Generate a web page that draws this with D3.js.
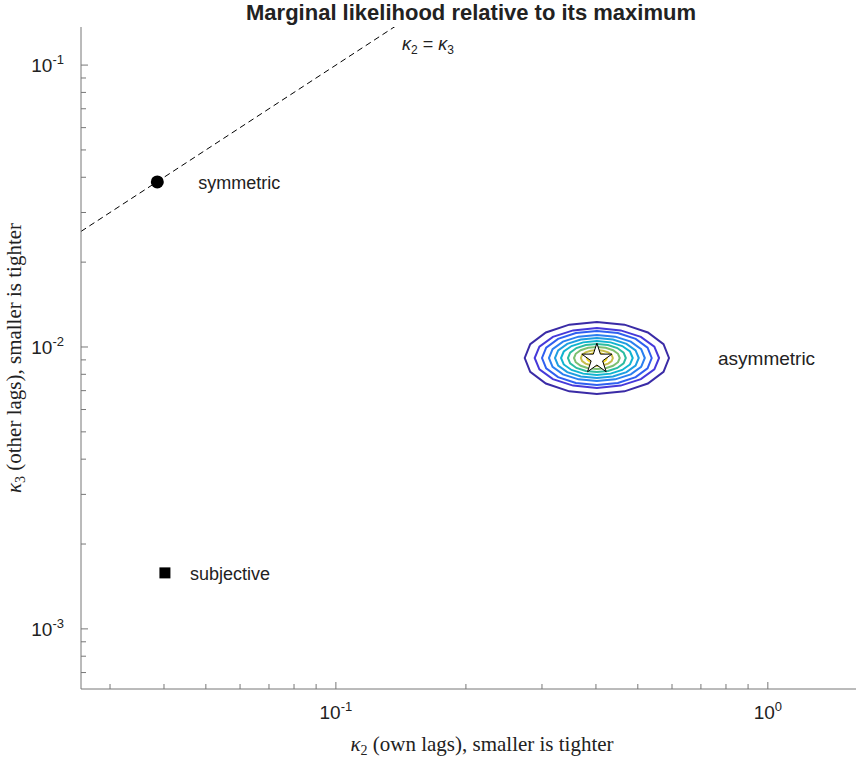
<!DOCTYPE html>
<html><head><meta charset="utf-8">
<script src="https://cdn.jsdelivr.net/npm/d3@7"></script>
<style>body{margin:0;background:#fff}</style>
</head><body>
<svg id="chart" width="860" height="758"></svg>
<script>
// data
const xDomain = [0.0257, 1.6];
const yDomain = [0.000612, 0.1365];
const xMajor = [0.1, 1];
const yMajor = [0.001, 0.01, 0.1];
const points = [
  { name: "symmetric", k2: 0.0386, k3: 0.0385, shape: "circle" },
  { name: "subjective", k2: 0.0402, k3: 0.00158, shape: "square" }
];
const peak = { name: "asymmetric", k2: 0.402, k3: 0.00914 };
// contour half-widths in decades (outer to inner)
const levelRx = [0.167, 0.144, 0.127, 0.111, 0.097, 0.083, 0.067, 0.053, 0.037, 0.023];
const levelRy = [0.128, 0.106, 0.096, 0.082, 0.071, 0.060, 0.050, 0.039, 0.028, 0.018];
const levelColors = ["#3a2ba6", "#4639d9", "#2f5ff0", "#2a7ff0", "#1e9ee0", "#10b4d0", "#2cbca0", "#7cbf70", "#c7bd4a", "#f5d925"];

const svg = d3.select("#chart");
const x = d3.scaleLog().domain(xDomain).range([81, 856]);
const y = d3.scaleLog().domain(yDomain).range([689, 27]);

svg.append("defs").append("clipPath").attr("id", "clip")
  .append("rect").attr("x", 81).attr("y", 27).attr("width", 775).attr("height", 662);
const plot = svg.append("g").attr("clip-path", "url(#clip)");

// identity line
plot.append("line")
  .attr("x1", x(0.0257)).attr("y1", y(0.0257))
  .attr("x2", x(0.16)).attr("y2", y(0.16))
  .attr("stroke", "#000").attr("stroke-dasharray", "6,4").attr("stroke-width", 1);

// contours
const n = 16;
const line = d3.line().curve(d3.curveLinearClosed);
levelRx.forEach((rx, i) => {
  const ry = levelRy[i];
  const pts = d3.range(n).map(j => {
    const a = 2 * Math.PI * j / n;
    return [x(peak.k2 * Math.pow(10, rx * Math.cos(a))), y(peak.k3 * Math.pow(10, ry * Math.sin(a)))];
  });
  plot.append("path").attr("d", line(pts)).attr("fill", "none")
    .attr("stroke", levelColors[i]).attr("stroke-width", 2);
});

// star
plot.append("path")
  .attr("d", d3.symbol().type(d3.symbolStar).size(280)())
  .attr("transform", `translate(${x(peak.k2)},${y(peak.k3) + 1})`)
  .attr("fill", "#fff").attr("stroke", "#000").attr("stroke-width", 1);

points.forEach(p => {
  const px = x(p.k2), py = y(p.k3);
  if (p.shape === "circle") plot.append("circle").attr("cx", px).attr("cy", py).attr("r", 6.5);
  else plot.append("rect").attr("x", px - 5.5).attr("y", py - 5.5).attr("width", 11).attr("height", 11);
});

const sans = "'Liberation Sans', Arial, sans-serif";
const serif = "'Liberation Serif', 'Times New Roman', serif";
svg.append("text").attr("x", x(0.0386) + 41).attr("y", y(0.0385) + 7).text("symmetric")
  .attr("font-family", sans).attr("font-size", 18).attr("fill", "#222");
svg.append("text").attr("x", x(0.0402) + 25).attr("y", y(0.00158) + 7).text("subjective")
  .attr("font-family", sans).attr("font-size", 18).attr("fill", "#222");
svg.append("text").attr("x", 718).attr("y", y(peak.k3) + 7).text("asymmetric")
  .attr("font-family", sans).attr("font-size", 19).attr("fill", "#222");
const eq = svg.append("text").attr("x", 402).attr("y", 50)
  .attr("font-family", sans).attr("font-size", 18).attr("fill", "#222");
eq.append("tspan").text("κ").attr("font-style", "italic");
eq.append("tspan").text("2").attr("font-size", 12).attr("dy", 4);
eq.append("tspan").text(" = ").attr("dy", -4);
eq.append("tspan").text("κ").attr("font-style", "italic");
eq.append("tspan").text("3").attr("font-size", 12).attr("dy", 4);

// axes
const gridCol = "#777";
svg.append("line").attr("x1", 81).attr("x2", 856).attr("y1", 689).attr("y2", 689).attr("stroke", gridCol);
svg.append("line").attr("x1", 81).attr("x2", 81).attr("y1", 27).attr("y2", 689).attr("stroke", gridCol);

const xMinor = x.ticks().filter(v => v >= xDomain[0] && v <= xDomain[1]);
xMinor.forEach(v => {
  const major = xMajor.some(m => Math.abs(m - v) / m < 1e-6);
  svg.append("line").attr("x1", x(v)).attr("x2", x(v)).attr("y1", 689).attr("y2", 689 - (major ? 7 : 5)).attr("stroke", gridCol);
});
const yMinor = y.ticks().filter(v => v >= yDomain[0] && v <= yDomain[1]);
yMinor.forEach(v => {
  const major = yMajor.some(m => Math.abs(m - v) / m < 1e-6);
  svg.append("line").attr("y1", y(v)).attr("y2", y(v)).attr("x1", 81).attr("x2", 81 + (major ? 7 : 5)).attr("stroke", gridCol);
});

function powLabel(t, v) {
  const e = Math.round(Math.log10(v));
  t.append("tspan").text("10");
  t.append("tspan").text(e).attr("font-size", 13).attr("dy", -8);
}
xMajor.forEach(v => {
  const t = svg.append("text").attr("x", x(v)).attr("y", 719).attr("text-anchor", "middle")
    .attr("font-family", sans).attr("font-size", 19).attr("fill", "#222");
  powLabel(t, v);
});
yMajor.forEach(v => {
  const t = svg.append("text").attr("x", 64).attr("y", y(v) + 7).attr("text-anchor", "end")
    .attr("font-family", sans).attr("font-size", 19).attr("fill", "#222");
  powLabel(t, v);
});

svg.append("text").attr("x", 471).attr("y", 20).attr("text-anchor", "middle")
  .attr("font-family", sans).attr("font-weight", "bold").attr("font-size", 22).attr("fill", "#222")
  .text("Marginal likelihood relative to its maximum");

const xl = svg.append("text").attr("x", 482).attr("y", 751).attr("text-anchor", "middle")
  .attr("font-family", serif).attr("font-size", 21).attr("fill", "#222");
xl.append("tspan").text("κ").attr("font-style", "italic");
xl.append("tspan").text("2").attr("font-size", 14).attr("dy", 4);
xl.append("tspan").text(" (own lags), smaller is tighter").attr("dy", -4);

const yl = svg.append("text").attr("transform", "translate(21,358) rotate(-90)").attr("text-anchor", "middle")
  .attr("font-family", serif).attr("font-size", 21).attr("fill", "#222");
yl.append("tspan").text("κ").attr("font-style", "italic");
yl.append("tspan").text("3").attr("font-size", 14).attr("dy", 4);
yl.append("tspan").text(" (other lags), smaller is tighter").attr("dy", -4);
</script>
</body></html>
